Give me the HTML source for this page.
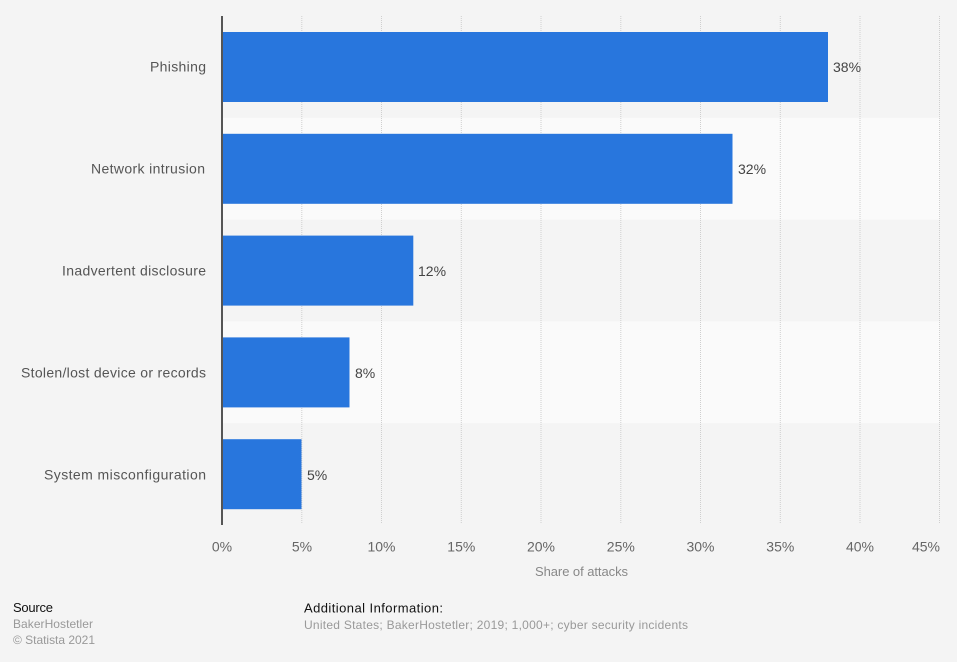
<!DOCTYPE html>
<html><head><meta charset="utf-8"><style>
html,body{margin:0;padding:0;background:#f4f4f4;}
svg{display:block;font-family:"Liberation Sans",Arial,sans-serif;}
</style></head><body>
<svg width="957" height="662" viewBox="0 0 957 662" xmlns="http://www.w3.org/2000/svg">
<rect x="0" y="0" width="957" height="662" fill="#f4f4f4"/>
<!-- bands -->
<rect x="222" y="117.8" width="718" height="101.8" fill="#fafafa"/>
<rect x="222" y="321.4" width="718" height="101.8" fill="#fafafa"/>
<!-- gridlines -->
<g stroke="#cfcfcf" stroke-width="1" stroke-dasharray="1,1">
<line x1="301.8" y1="16" x2="301.8" y2="524"/>
<line x1="381.5" y1="16" x2="381.5" y2="524"/>
<line x1="461.3" y1="16" x2="461.3" y2="524"/>
<line x1="541" y1="16" x2="541" y2="524"/>
<line x1="620.8" y1="16" x2="620.8" y2="524"/>
<line x1="700.5" y1="16" x2="700.5" y2="524"/>
<line x1="780.3" y1="16" x2="780.3" y2="524"/>
<line x1="860" y1="16" x2="860" y2="524"/>
<line x1="939.5" y1="16" x2="939.5" y2="524"/>
</g>
<!-- bars -->
<g fill="#2876dd">
<rect x="222" y="32" width="606" height="70"/>
<rect x="222" y="133.8" width="510.5" height="70"/>
<rect x="222" y="235.6" width="191.3" height="70"/>
<rect x="222" y="337.4" width="127.5" height="70"/>
<rect x="222" y="439.2" width="79.5" height="70"/>
</g>
<!-- axis -->
<line x1="222" y1="16" x2="222" y2="525" stroke="#555" stroke-width="2"/>
<!-- value labels -->
<g font-size="14" fill="#444">
<text x="833" y="72">38%</text>
<text x="738" y="174">32%</text>
<text x="418" y="276">12%</text>
<text x="355" y="378">8%</text>
<text x="307" y="480">5%</text>
</g>
<!-- category labels -->
<g font-size="14" fill="#555">
<text x="150" y="71.5" textLength="56" lengthAdjust="spacing">Phishing</text>
<text x="91" y="173.5" textLength="114" lengthAdjust="spacing">Network intrusion</text>
<text x="62" y="275.5" textLength="144" lengthAdjust="spacing">Inadvertent disclosure</text>
<text x="21" y="377.5" textLength="185" lengthAdjust="spacing">Stolen/lost device or records</text>
<text x="44" y="479.5" textLength="162" lengthAdjust="spacing">System misconfiguration</text>
</g>
<!-- tick labels -->
<g font-size="14" fill="#666" text-anchor="middle">
<text x="222" y="551.5">0%</text>
<text x="302" y="551.5">5%</text>
<text x="381.5" y="551.5">10%</text>
<text x="461.3" y="551.5">15%</text>
<text x="541" y="551.5">20%</text>
<text x="620.8" y="551.5">25%</text>
<text x="700.5" y="551.5">30%</text>
<text x="780.3" y="551.5">35%</text>
<text x="860" y="551.5">40%</text>
<text x="940" y="551.5" text-anchor="end">45%</text>
</g>
<text x="535" y="576" font-size="13" fill="#888" textLength="93" lengthAdjust="spacing">Share of attacks</text>
<!-- footer -->
<text x="13" y="612" font-size="13" fill="#111" textLength="40" lengthAdjust="spacing">Source</text>
<text x="13" y="628" font-size="12" fill="#999" textLength="80" lengthAdjust="spacing">BakerHostetler</text>
<text x="13" y="644" font-size="12" fill="#999" textLength="82" lengthAdjust="spacing">© Statista 2021</text>
<text x="304" y="612.5" font-size="13" fill="#111" textLength="139" lengthAdjust="spacing">Additional Information:</text>
<text x="304" y="629" font-size="12" fill="#999" textLength="384" lengthAdjust="spacing">United States; BakerHostetler; 2019; 1,000+; cyber security incidents</text>
</svg>
</body></html>
